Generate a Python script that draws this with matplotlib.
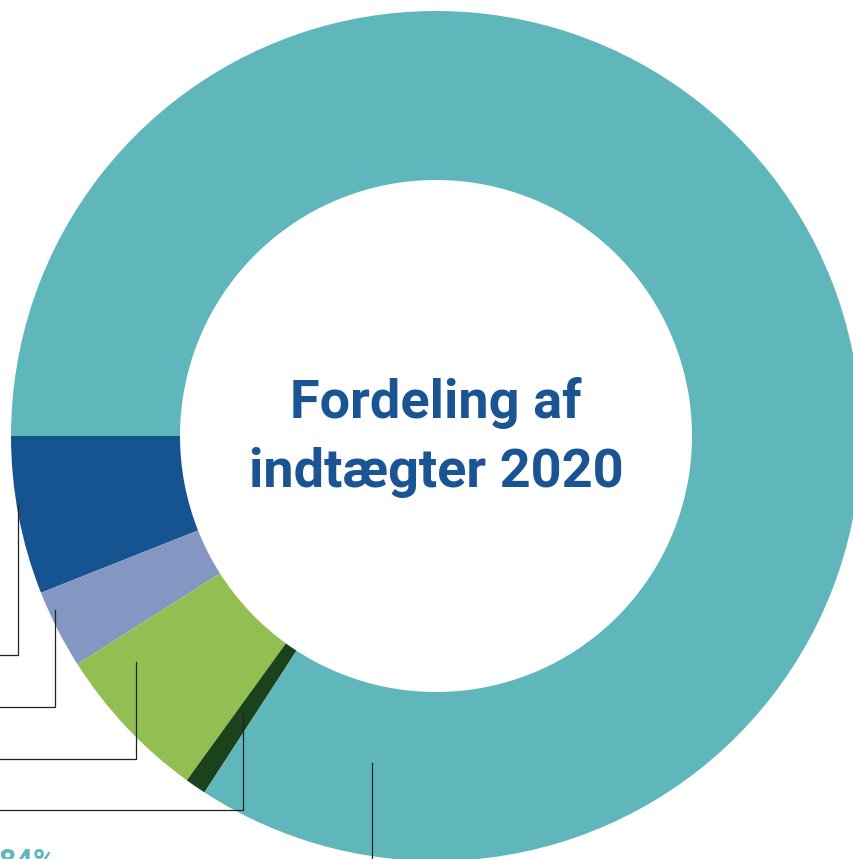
import matplotlib
matplotlib.use("Agg")
import matplotlib.pyplot as plt

# andele af indtaegter 2020 (procent), aflaest fra figuren
labels = ["Blaa", "Lilla", "Groen", "Moerkegroen", "Turkis"]
values = [6, 3, 6, 0.8, 84]
colors = ["#165491", "#8497c2", "#93bf52", "#1a431c", "#5fb7bc"]
teal_label = "84%"

W, H = 854, 859
fig = plt.figure(figsize=(W / 100, H / 100), dpi=100)
ax = fig.add_axes([0, 0, 1, 1])

cx, cy = 436, H - 436
r_out, r_in = 425, 256

ax.pie(values, colors=colors, startangle=180, counterclock=True,
       center=(cx, cy), radius=r_out,
       wedgeprops=dict(width=r_out - r_in, linewidth=0))

ax.set_xlim(0, W)
ax.set_ylim(0, H)
ax.set_aspect("equal")
ax.axis("off")

# leader lines (pixel coords from top): x, top y, bottom y
leaders = [(18, 505, 655), (55, 610, 707), (136, 662, 759), (243, 713, 810)]
for x, y0, y1 in leaders:
    ax.plot([x, x, -5], [H - y0, H - y1, H - y1], color="#222222", lw=0.9,
            solid_joinstyle="miter")
ax.plot([372, 372], [H - 763, -5], color="#222222", lw=0.9)

ax.text(cx, H - 403, "Fordeling af", ha="center", va="center",
        fontsize=39, fontweight="bold", color="#1a5493", family="Roboto")
ax.text(cx, H - 473, "indtægter 2020", ha="center", va="center",
        fontsize=39, fontweight="bold", color="#1a5493", family="Roboto")

# label sits at the lower edge, only its top shows (as in the original)
ax.text(-1, H - 847, teal_label, ha="left", va="top", fontsize=22,
        fontweight="bold", color="#5fb7bc", family="Roboto")

fig.savefig("out.png", dpi=100)
